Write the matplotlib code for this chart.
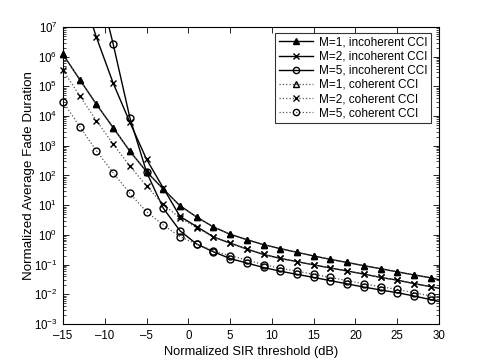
import numpy as np
import matplotlib
matplotlib.use("Agg")
import matplotlib.pyplot as plt
from matplotlib.lines import Line2D
from matplotlib.ticker import LogLocator, NullFormatter

plt.rcParams['font.family'] = ['Liberation Sans', 'DejaVu Sans']
plt.rcParams['mathtext.fontset'] = 'custom'
plt.rcParams['mathtext.rm'] = 'Liberation Sans'

# SIR threshold (dB) at marker positions, plus line end point at 30 dB
sir_db = [-15, -13, -11, -9, -7, -5, -3, -1, 1, 3, 5, 7, 9, 11, 13, 15, 17, 19, 21, 23, 25, 27, 29, 30]
nan = np.nan

m1_incoh = [1.2e6, 1.7e5, 2.5e4, 4.1e3, 660, 134, 35, 9.6, 4.0, 1.85, 1.05, 0.69, 0.47, 0.345,
            0.26, 0.195, 0.15, 0.118, 0.092, 0.073, 0.057, 0.045, 0.036, 0.031]
m2_incoh = [nan, 2.5e8, 4.5e6, 1.3e5, 6.2e3, 350, 38, 4.2, 1.9, 0.86, 0.53, 0.335, 0.22, 0.162,
            0.126, 0.098, 0.077, 0.061, 0.048, 0.037, 0.030, 0.023, 0.018, 0.016]
m5_incoh = [nan, nan, 5e8, 2.7e6, 8.9e3, 130, 7.9, 1.38, 0.49, 0.27, 0.16, 0.113, 0.08, 0.06,
            0.047, 0.037, 0.0288, 0.0225, 0.0175, 0.014, 0.0113, 0.0088, 0.0066, 0.0058]
m1_coh = list(m1_incoh)
m2_coh = [3.5e5, 4.8e4, 7.0e3, 1.15e3, 210, 44, 10.7, 3.7, 1.75, 0.84, 0.53, 0.335, 0.22, 0.162,
          0.126, 0.098, 0.077, 0.061, 0.048, 0.037, 0.030, 0.023, 0.018, 0.016]
m5_coh = [3.1e4, 4.4e3, 680, 124, 25, 6.0, 2.15, 0.87, 0.49, 0.29, 0.2, 0.143, 0.1, 0.075,
          0.06, 0.047, 0.037, 0.029, 0.0225, 0.018, 0.0147, 0.0113, 0.0088, 0.0077]

labels = ['M=1, incoherent CCI', 'M=2, incoherent CCI', 'M=5, incoherent CCI',
          'M=1, coherent CCI', 'M=2, coherent CCI', 'M=5, coherent CCI']
x_ticks = [-15, -10, -5, 0, 5, 10, 15, 20, 25, 30]

fig = plt.figure(figsize=(4.85, 3.64), dpi=100)
ax = fig.add_axes([63/485, 40/364, 376/485, 297/364])

series = [
    (m1_incoh, '-', '^', 'k'),
    (m2_incoh, '-', 'x', 'k'),
    (m5_incoh, '-', 'o', 'none'),
    (m1_coh, ':', '^', 'none'),
    (m2_coh, ':', 'x', 'k'),
    (m5_coh, ':', 'o', 'none'),
]

x = np.array(sir_db, dtype=float)
handles = []
for (vals, ls, mk, fc), lab in zip(series, labels):
    y = np.array(vals, dtype=float)
    lw = 1.0 if ls == '-' else 0.9
    col = 'k' if ls == '-' else '#555555'
    ax.plot(x, y, linestyle=ls, color=col, linewidth=lw)
    ym = np.ma.masked_invalid(y[:-1])
    ym = np.ma.masked_greater(ym, 1e7)
    ax.plot(x[:-1], ym, linestyle='none', marker=mk, markersize=5,
            markerfacecolor=fc, markeredgecolor='k', markeredgewidth=1.0, clip_on=False, zorder=3)
    handles.append(Line2D([], [], linestyle=ls, color=col, linewidth=lw, marker=mk, markersize=4.5,
                          markerfacecolor=fc, markeredgecolor='k', markeredgewidth=1.0))

ax.set_yscale('log')
ax.set_xlim(-15, 30)
ax.set_ylim(1e-3, 1e7)
ax.set_xticks(x_ticks)
ax.set_xticklabels([str(t).replace('-', '\u2013') for t in x_ticks])
ax.yaxis.set_major_locator(LogLocator(base=10, numticks=20))
ax.yaxis.set_minor_locator(LogLocator(base=10, subs=np.arange(2, 10), numticks=100))
ax.yaxis.set_minor_formatter(NullFormatter())
ax.tick_params(which='both', direction='in', top=True, right=True, labelsize=8.3, colors='k')
ax.tick_params(which='major', length=4, width=0.6, pad=4)
ax.tick_params(which='minor', length=2, width=0.5)
for s in ax.spines.values():
    s.set_linewidth(0.8)
    s.set_color('k')

ax.set_xlabel('Normalized SIR threshold (dB)', fontsize=9.3, labelpad=3)
ax.set_ylabel('Normalized Average Fade Duration', fontsize=9.6)
ax.yaxis.set_label_coords(-0.075, 0.5)

leg = ax.legend(handles, labels, loc='upper right', fontsize=8.5, frameon=True, fancybox=False,
                edgecolor='k', borderpad=0.3, labelspacing=0.18, handlelength=2.9,
                handletextpad=0.5, borderaxespad=0.0,
                bbox_to_anchor=(431/485, 1 - 33/364), bbox_transform=fig.transFigure)
leg.get_frame().set_linewidth(0.8)

fig.savefig('out.png', dpi=100)
